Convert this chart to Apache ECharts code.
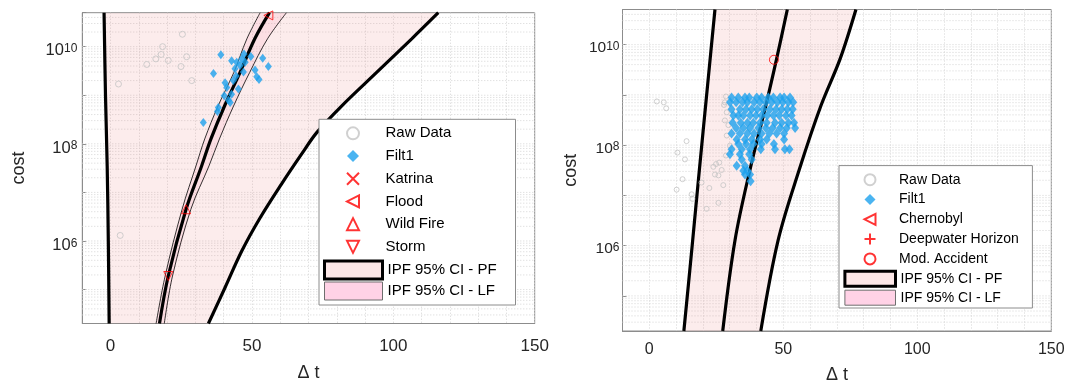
<!DOCTYPE html>
<html>
<head>
<meta charset="utf-8">
<title>IPF cost vs delta t</title>
<script src="https://cdn.jsdelivr.net/npm/echarts@6/dist/echarts.min.js"></script>
<style>
  html, body { margin: 0; padding: 0; background: #fff; }
  #chart { width: 1081px; height: 385px; }
</style>
</head>
<body>
<div id="chart"></div>
<script>
// tick labels
var xTickLabels = [0, 50, 100, 150];
var yTickExps = [6, 8, 10];

// ---- left panel (natural disasters) ----  [delta t, cost]
var rawLeft = [[2.8,1.7e9],[12.8,4.3e9],[16.0,5.6e9],[17.9,6.9e9],[18.4,1.0e10],[20.4,5.2e9],
  [25.4,1.8e10],[24.9,3.9e9],[26.9,6.2e9],[28.7,2.0e9],[3.4,1.3e6]];
var filtLeft = [[39.0,6.8e9],[36.4,2.8e9],[32.8,2.75e8],[42.8,5.1e9],[44.6,4.8e9],[47.2,7.1e9],
  [49.6,6.3e9],[53.8,5.8e9],[55.8,3.9e9],[51.1,3.3e9],[51.7,2.4e9],[52.5,2.1e9],[47.6,4.8e9],
  [45.8,4.1e9],[44.0,3.5e9],[47.0,3.0e9],[44.4,2.5e9],[40.5,1.8e9],[41.1,1.45e9],[45.2,1.35e9],
  [42.8,1.05e9],[40.2,9.8e8],[42.3,7.1e8],[38.1,5.6e8],[37.8,4.6e8],[41.7,7.9e8],[43.4,2.0e9],
  [46.4,5.6e9]];
var katrina = [];
var flood = [[55.8,4.4e10]];
var wildFire = [[26.7,4.5e6]];
var storm = [[20.4,1.9e5]];
var pfLowLeft = [[-0.5,2e4],[-0.8,1e6],[-1.2,3.5e7],[-1.8,1e9],[-2.3,5e10]];
var pfMidLeft = [[17.3,2e4],[20.4,1.9e5],[26.7,4.5e6],[32.2,3.5e7],[35.5,1.26e8],[40.3,6e8],
  [45.8,2.95e9],[51.0,1.45e10],[56.2,5e10]];
var pfHighLeft = [[34.6,2e4],[40.5,1.1e5],[46.4,6.2e5],[52.9,3.0e6],[60.5,1.5e7],[67.6,6.2e7],
  [72.9,1.7e8],[81.7,6e8],[94.1,2.95e9],[106.5,1.45e10],[115.9,5e10]];
var lfLowLeft = [[16.1,2e4],[19.3,1.9e5],[25.3,4.5e6],[30.2,3.5e7],[33.3,1.26e8],[38.0,6e8],
  [43.6,2.95e9],[48.2,1.45e10],[52.9,5e10]];
var lfHighLeft = [[19.0,2e4],[21.9,1.9e5],[28.4,4.5e6],[34.8,3.5e7],[38.5,1.26e8],[43.5,6e8],
  [49.2,2.95e9],[55.5,1.45e10],[62.2,5e10]];

// ---- right panel (accidents) ----
var rawRight = [[2.8,7.4e8],[5.4,7.1e8],[6.3,5.4e8],[13.9,1.2e8],[10.5,7.1e7],[13.3,5.2e7],
  [12.4,2.1e7],[10.2,1.3e7],[15.8,1.05e7],[16.1,8.5e6],[21.4,5.4e6],[25.8,7.1e6],[22.4,1.4e7],
  [19.5,1.8e7],[23.9,3.7e7],[24.9,4.2e7],[26.1,4.5e7],[24.5,2.6e7],[25.8,2.5e7],[27.0,3.2e7],
  [27.6,1.6e7],[28.6,9.3e8],[28.2,7.1e8],[27.9,6.3e8],[28.9,4.5e8],[28.2,3.1e8],[29.5,2.5e8],
  [28.9,1.55e8],[30.1,9.8e7],[28.6,6.2e7]];
var filtRight = [
  [30.7,8.9e8],[33.2,8.9e8],[35.7,8.9e8],[37.3,8.9e8],[40.1,8.9e8],[41.9,8.9e8],[44.4,8.9e8],[46.3,8.9e8],[48.8,8.9e8],[50.3,8.9e8],[52.5,8.9e8],
  [30.1,7.1e8],[32.4,7.1e8],[34.8,7.1e8],[36.6,7.1e8],[39.1,7.1e8],[41.3,7.1e8],[43.5,7.1e8],[45.7,7.1e8],[47.8,7.1e8],[49.8,7.1e8],[51.9,7.1e8],[53.7,7.1e8],
  [30.7,5.2e8],[33.8,5.2e8],[36.1,5.2e8],[38.2,5.2e8],[40.3,5.2e8],[42.5,5.2e8],[45.0,5.2e8],[47.3,5.2e8],[49.4,5.2e8],[51.5,5.2e8],[53.5,5.2e8],
  [31.4,3.9e8],[33.2,3.9e8],[35.1,3.9e8],[37.6,3.9e8],[39.8,3.9e8],[41.9,3.9e8],[44.0,3.9e8],[46.3,3.9e8],[48.5,3.9e8],[51.0,3.9e8],[53.1,3.9e8],
  [31.1,2.8e8],[34.1,2.8e8],[36.6,2.8e8],[38.8,2.8e8],[41.3,2.8e8],[43.8,2.8e8],[46.9,2.8e8],[49.4,2.8e8],[51.9,2.8e8],[54.0,2.8e8],
  [32.4,2.2e8],[35.1,2.2e8],[37.6,2.2e8],[40.7,2.2e8],[43.5,2.2e8],[46.0,2.2e8],[48.8,2.2e8],[51.3,2.2e8],[54.4,2.2e8],
  [30.7,1.7e8],[33.8,1.7e8],[36.6,1.7e8],[39.1,1.7e8],[41.9,1.7e8],[44.8,1.7e8],[47.5,1.7e8],[50.3,1.7e8],
  [32.6,1.3e8],[35.7,1.3e8],[38.2,1.3e8],[41.3,1.3e8],[43.8,1.3e8],[50.3,1.3e8],
  [33.2,1.05e8],[36.1,1.05e8],[38.8,1.05e8],[41.9,1.05e8],[46.5,1.05e8],
  [30.7,8.3e7],[34.5,8.3e7],[37.6,8.3e7],[41.6,8.3e7],[46.9,8.3e7],[50.6,8.3e7],[52.3,8.3e7],
  [30.1,6.6e7],[33.8,6.6e7],[37.3,6.6e7],
  [34.5,5.2e7],[38.2,5.2e7],
  [32.6,3.9e7],[35.7,3.9e7],
  [35.1,3.1e7],[36.6,3.1e7],
  [35.7,2.6e7],[37.6,2.6e7],
  [37.8,1.9e7]];
var chernobyl = [];
var deepwater = [];
var modAccident = [[46.5,5e9]];
var pfLowRight = [[12.9,2e4],[16.0,1e6],[18.7,3.3e7],[21.4,1e9],[24.5,5e10]];
var pfMidRight = [[27.4,2e4],[32.0,1.3e6],[37.6,3.3e7],[43.5,6.2e8],[47.5,5.2e9],[51.5,5e10]];
var pfHighRight = [[41.6,2e4],[48.1,1.3e6],[56.0,3.3e7],[64.1,6.2e8],[71.2,5.2e9],[77.1,5e10]];

var FONT = 'Liberation Sans, Arial, sans-serif';
var TXT = '#262626';
var RED = '#ff0000';
var TRI_LEFT = 'path://M10,0L0,5L10,10Z';
var TRI_UP = 'path://M5,0L10,10L0,10Z';
var TRI_DOWN = 'path://M0,0L10,0L5,10Z';
var CROSS = 'path://M0,0L10,10M10,0L0,10';
var PLUS = 'path://M5,0L5,10M0,5L10,5';

function powLabel(v) {
  var e = Math.round(Math.log10(v));
  if (Math.abs(v - Math.pow(10, e)) > 1e-6 * v) return '';
  return yTickExps.indexOf(e) >= 0 ? '{b|10}{s|' + e + '}' : '';
}

// dotted log grid (1..9 x 10^n), drawn under the bands
function logGrid(idx) {
  var rows = [];
  for (var n = 4; n <= 10; n++) {
    for (var k = 1; k <= 9; k++) {
      var v = k * Math.pow(10, n);
      if (v > 2e4 && v < 5e10) rows.push([-10, v]);
    }
  }
  return {
    type: 'custom', xAxisIndex: idx, yAxisIndex: idx, z: 1, silent: true, data: rows,
    renderItem: function (params, api) {
      var a = api.coord([-10, api.value(1)]);
      var b = api.coord([150, api.value(1)]);
      return {
        type: 'line', shape: { x1: a[0], y1: a[1], x2: b[0], y2: b[1] },
        style: { stroke: '#d4d4d4', lineWidth: 1, lineDash: [1, 2] }
      };
    }
  };
}

function band(name, pts, fill, idx) {
  return {
    type: 'custom', name: name, xAxisIndex: idx, yAxisIndex: idx, z: 2, silent: true, clip: true,
    data: pts,
    renderItem: function (params, api) {
      if (params.dataIndex !== 0) return;
      return {
        type: 'polygon',
        shape: { points: pts.map(function (d) { return api.coord(d); }) },
        style: { fill: fill }
      };
    }
  };
}

function curve(name, data, width, idx) {
  return {
    type: 'line', name: name, xAxisIndex: idx, yAxisIndex: idx, data: data, z: 3,
    smooth: 0.35, symbol: 'none', silent: true,
    lineStyle: { color: '#000', width: width }
  };
}

function dots(name, data, idx, symbol, size, style) {
  return {
    type: 'scatter', name: name, xAxisIndex: idx, yAxisIndex: idx, data: data, z: 4,
    symbol: symbol, symbolSize: size, itemStyle: style
  };
}

var rawStyle = { color: 'rgba(0,0,0,0)', borderColor: '#c4c4c4', borderWidth: 1 };
var filtStyle = { color: '#1da1ee' };
var redHollow = { color: 'rgba(0,0,0,0)', borderColor: RED, borderWidth: 1 };

function xAxisOf(idx, fontSize, margin, gap) {
  return {
    type: 'value', gridIndex: idx, min: -10, max: 150, interval: 10,
    name: 'Δ t', nameLocation: 'middle', nameGap: gap,
    nameTextStyle: { fontFamily: FONT, fontSize: 18, color: TXT },
    axisLine: { show: true, onZero: false, lineStyle: { color: '#8c8c8c' } },
    axisTick: { show: false },
    axisLabel: {
      fontFamily: FONT, fontSize: fontSize, color: TXT, margin: margin,
      formatter: function (v) { return xTickLabels.indexOf(v) >= 0 ? String(v) : ''; }
    },
    splitLine: { show: true, lineStyle: { color: '#d4d4d4', type: [1, 2] } }
  };
}

function yAxisOf(idx, fontSize, supSize, margin, gap, pad) {
  return {
    type: 'log', gridIndex: idx, logBase: 10, min: 2e4, max: 5e10,
    name: 'cost', nameLocation: 'middle', nameGap: gap, nameRotate: 90,
    nameTextStyle: { fontFamily: FONT, fontSize: 18, color: TXT },
    axisLine: { show: true, onZero: false, lineStyle: { color: '#8c8c8c' } },
    axisTick: { show: true, inside: true, length: 4, lineStyle: { color: '#8c8c8c' } },
    axisLabel: {
      formatter: powLabel, margin: margin, padding: [pad, 0, 0, 0],
      rich: {
        b: { fontFamily: FONT, fontSize: fontSize, lineHeight: fontSize, color: TXT,
             padding: [6, 0, 0, 0], verticalAlign: 'bottom' },
        s: { fontFamily: FONT, fontSize: supSize, lineHeight: supSize, color: TXT, verticalAlign: 'top' }
      }
    },
    splitLine: { show: false }
  };
}

function markerLegend(items, left, top, size, rowH, pad, fontSize) {
  return {
    orient: 'vertical', left: left, top: top, padding: 0, itemGap: 0, z: 60,
    itemWidth: size, itemHeight: size, selectedMode: false,
    textStyle: { fontFamily: FONT, fontSize: fontSize, color: '#000', lineHeight: rowH,
                 padding: [0, 0, 0, pad] },
    data: items
  };
}

function patchLegend(left, top, w, h, rowH, fontSize) {
  return {
    orient: 'vertical', left: left, top: top, padding: 0, itemGap: 0, z: 60,
    itemWidth: w, itemHeight: h, selectedMode: false,
    textStyle: { fontFamily: FONT, fontSize: fontSize, color: '#000', lineHeight: rowH },
    data: [
      { name: 'IPF 95% CI - PF', icon: 'rect',
        itemStyle: { color: '#fce7e7', borderColor: '#000', borderWidth: 3 } },
      { name: 'IPF 95% CI - LF', icon: 'rect',
        itemStyle: { color: '#ffd2e6', borderColor: '#6e6e6e', borderWidth: 1 } }
    ]
  };
}

var option = {
  backgroundColor: '#fff',
  animation: false,
  grid: [
    { left: 82.3, top: 12.7, width: 452.4, height: 310.8, show: true, backgroundColor: '#fff',
      borderColor: '#8c8c8c', borderWidth: 1, containLabel: false, outerBoundsMode: 'none' },
    { left: 622.5, top: 9.5, width: 428.8, height: 321.5, show: true, backgroundColor: '#fff',
      borderColor: '#8c8c8c', borderWidth: 1, containLabel: false, outerBoundsMode: 'none' }
  ],
  xAxis: [xAxisOf(0, 17, 14, 41), xAxisOf(1, 16, 11, 35)],
  yAxis: [yAxisOf(0, 16.5, 12, 5, 54, 9), yAxisOf(1, 15.5, 12, 3, 42, 7)],
  legend: [
    markerLegend(['Raw Data', 'Filt1', 'Katrina', 'Flood', 'Wild Fire', 'Storm'],
      346, 122, 12, 22.7, 21.5, 15),
    patchLegend(323, 259.5, 58, 18, 21, 15),
    markerLegend(['Raw Data', 'Filt1', 'Chernobyl', 'Deepwater Horizon', 'Mod. Accident'],
      863.5, 169.8, 11, 19.8, 18.5, 14),
    patchLegend(843.4, 269.2, 50.6, 15, 19, 14)
  ],
  graphic: [
    { type: 'rect', z: 50, shape: { x: 319, y: 119.3, width: 196.5, height: 185.7 },
      style: { fill: '#fff', stroke: '#8c8c8c', lineWidth: 1 } },
    { type: 'rect', z: 50, shape: { x: 839, y: 165.6, width: 193.4, height: 142.4 },
      style: { fill: '#fff', stroke: '#8c8c8c', lineWidth: 1 } }
  ],
  series: [
    logGrid(0),
    band('IPF 95% CI - PF', pfLowLeft.concat(pfHighLeft.slice().reverse()), 'rgba(240,150,150,0.18)', 0),
    band('IPF 95% CI - LF', lfLowLeft.concat(lfHighLeft.slice().reverse()), 'rgba(255,140,180,0.14)', 0),
    curve('pf-low', pfLowLeft, 3.2, 0),
    curve('pf-mid', pfMidLeft, 3.2, 0),
    curve('pf-high', pfHighLeft, 3.2, 0),
    curve('lf-low', lfLowLeft, 0.8, 0),
    curve('lf-high', lfHighLeft, 0.8, 0),
    dots('Raw Data', rawLeft, 0, 'circle', 6, rawStyle),
    dots('Filt1', filtLeft, 0, 'diamond', [7, 9], filtStyle),
    dots('Katrina', katrina, 0, CROSS, 8, redHollow),
    dots('Flood', flood, 0, TRI_LEFT, 9, redHollow),
    dots('Wild Fire', wildFire, 0, TRI_UP, 9, redHollow),
    dots('Storm', storm, 0, TRI_DOWN, 9, redHollow),

    logGrid(1),
    band('IPF 95% CI - PF', pfLowRight.concat(pfHighRight.slice().reverse()), 'rgba(240,150,150,0.18)', 1),
    curve('pf-low-r', pfLowRight, 3.2, 1),
    curve('pf-mid-r', pfMidRight, 3.2, 1),
    curve('pf-high-r', pfHighRight, 3.2, 1),
    dots('Raw Data', rawRight, 1, 'circle', 5, rawStyle),
    dots('Filt1', filtRight, 1, 'diamond', [8, 10], filtStyle),
    dots('Chernobyl', chernobyl, 1, TRI_LEFT, 9, redHollow),
    dots('Deepwater Horizon', deepwater, 1, PLUS, 9, redHollow),
    dots('Mod. Accident', modAccident, 1, 'circle', 9, redHollow)
  ]
};

var myChart = echarts.init(document.getElementById('chart'));
myChart.setOption(option);
</script>
</body>
</html>
